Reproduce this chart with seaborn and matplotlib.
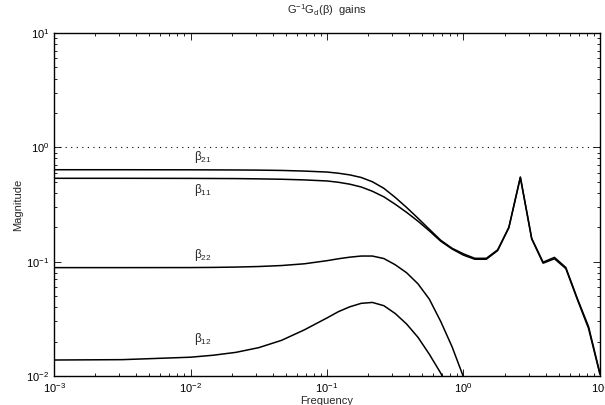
import numpy as np
import pandas as pd
import matplotlib
matplotlib.use("Agg")
import matplotlib.pyplot as plt
import seaborn as sns

# frequency grid (rad/s)
freq = [0.001, 0.00316, 0.01, 0.0147, 0.0215, 0.0316, 0.0464, 0.0681,
        0.1, 0.121, 0.147, 0.178, 0.215, 0.261, 0.316, 0.383, 0.464,
        0.562, 0.681, 0.825, 1.0, 1.21, 1.47, 1.78, 2.15, 2.61, 3.16,
        3.83, 4.64, 5.62, 6.81, 8.25, 10.0]

nan = np.nan
beta21 = [0.637, 0.637, 0.636, 0.635, 0.634, 0.632, 0.628, 0.620,
          0.608, 0.594, 0.574, 0.545, 0.500, 0.438, 0.365, 0.298, 0.240,
          0.192, 0.154, 0.131, 0.117, 0.107, 0.107, 0.127, 0.200, 0.550, 0.160,
          0.099, 0.109, 0.089, 0.048, 0.027, 0.0105]
beta11 = [0.536, 0.536, 0.535, 0.534, 0.533, 0.530, 0.526, 0.519,
          0.508, 0.495, 0.476, 0.450, 0.413, 0.369, 0.318, 0.270, 0.226,
          0.186, 0.151, 0.129, 0.114, 0.105, 0.105, 0.125, 0.198, 0.545, 0.158,
          0.097, 0.106, 0.087, 0.047, 0.026, 0.0103]
beta22 = [0.0887, 0.0887, 0.0888, 0.0891, 0.0897, 0.0907, 0.0925, 0.0958,
          0.1020, 0.1060, 0.1095, 0.1120, 0.1120, 0.1065, 0.094, 0.080, 0.064,
          0.047, 0.030, 0.018, 0.0098, 0.005, nan, nan, nan, nan, nan,
          nan, nan, nan, nan, nan, nan]
beta12 = [0.0138, 0.0139, 0.0146, 0.0152, 0.0161, 0.0177, 0.0205, 0.0253,
          0.0322, 0.0365, 0.0403, 0.0432, 0.0440, 0.0412, 0.0352, 0.0285, 0.0218,
          0.0155, 0.0106, 0.0068, 0.004, nan, nan, nan, nan, nan, nan,
          nan, nan, nan, nan, nan, nan]

names = ["21", "11", "22", "12"]
series = [beta21, beta11, beta22, beta12]
label_x = [0.0124, 0.0124, 0.0124, 0.0124]
label_y = [0.82, 0.42, 0.114, 0.021]

sns.set_style("ticks")
plt.rcParams["font.family"] = ["Liberation Sans", "DejaVu Sans"]
plt.rcParams["mathtext.fontset"] = "custom"
plt.rcParams["mathtext.rm"] = "Liberation Sans"
plt.rcParams["mathtext.it"] = "Liberation Sans"
plt.rcParams["mathtext.bf"] = "Liberation Sans"

fig = plt.figure(figsize=(6.05, 4.05), dpi=100)
ax = fig.add_axes([0.0893, 0.0716, 0.9024, 0.8469])

for nm, vals in zip(names, series):
    df = pd.DataFrame({"freq": freq, "mag": vals}).dropna()
    sns.lineplot(data=df, x="freq", y="mag", ax=ax, color="black",
                 linewidth=1.1, sort=False, estimator=None)

# unity reference line
ax.axhline(1.0, color="black", linestyle=(0, (1, 4)), linewidth=0.8)

for nm, lx, ly in zip(names, label_x, label_y):
    ax.text(lx, ly, r"$\beta_{%s}$" % nm, fontsize=8.5, ha="center", va="center")

ax.set_xscale("log")
ax.set_yscale("log")
ax.set_xlim(1e-3, 1e1)
ax.set_ylim(1e-2, 1e1)

ax.tick_params(which="both", direction="in", top=True, right=True,
               labelsize=8, width=0.6, colors="black")
ax.tick_params(which="major", length=5)
ax.tick_params(which="minor", length=2.5)
for sp in ax.spines.values():
    sp.set_linewidth(1.0)
    sp.set_color("black")

ax.set_xlabel("Frequency", fontsize=8, labelpad=1)
ax.set_ylabel("Magnitude", fontsize=8, labelpad=2)
ax.set_title(r"$\mathrm{G^{-1}G_d(\beta)}$  gains", fontsize=8, pad=14)

fig.savefig("out.png", dpi=100)
